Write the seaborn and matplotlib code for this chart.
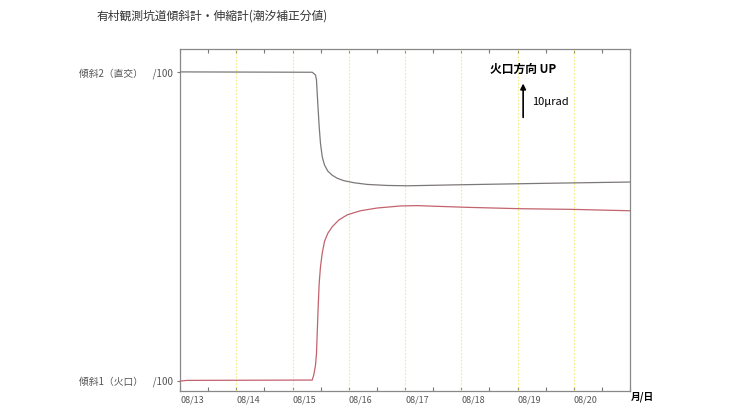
"""
有村観測坑道 傾斜計グラフ (潮汐補正分値) の再現.
"""

import matplotlib
matplotlib.use("Agg")
import matplotlib.pyplot as plt
import seaborn as sns
from matplotlib.ticker import MultipleLocator

# Données : temps en jours depuis 08/13 00:00, valeurs en μrad (échelle relative)
jours_t2 = [0.0, 2.35, 2.409, 2.426, 2.439, 2.456, 2.474, 2.497, 2.528, 2.568,
            2.627, 2.705, 2.794, 2.911, 3.089, 3.327, 3.682, 4.04, 4.98, 6.4, 8.0]
incl_2 = [93.3, 93.2, 92.4, 90.9, 87.0, 82.2, 77.3, 72.4, 68.5, 66.1,
          64.3, 63.1, 62.2, 61.5, 60.9, 60.4, 60.1, 60.0, 60.3, 60.7, 61.1]

jours_t1 = [0.0, 0.12, 2.35, 2.378, 2.409, 2.426, 2.439, 2.456, 2.474, 2.497,
            2.528, 2.568, 2.627, 2.705, 2.823, 2.972, 3.208, 3.504, 3.918,
            4.215, 5.108, 6.05, 6.994, 8.0]
incl_1 = [2.9, 3.1, 3.2, 4.7, 7.6, 11.0, 16.9, 24.6, 31.5, 36.3,
          40.3, 43.7, 46.1, 48.0, 50.0, 51.5, 52.7, 53.5, 54.1,
          54.2, 53.7, 53.3, 53.1, 52.7]

dates = ["08/13", "08/14", "08/15", "08/16", "08/17", "08/18", "08/19", "08/20"]
labels_y = ["傾斜2（直交）　/100", "傾斜1（火口）　/100"]
niveaux_y = [93.3, 3.0]

sns.set_style("white")
plt.rcParams['font.family'] = ['Noto Sans CJK JP', 'DejaVu Sans']

fig = plt.figure(figsize=(7.33, 4.18), dpi=100)
ax = fig.add_axes([0.2456, 0.0646, 0.6139, 0.8182])

# Lignes verticales jaunes pointillées (une par jour)
for j in range(1, len(dates)):
    ax.axvline(j, color="#eeee88", linestyle=(0, (1.5, 1.5)), linewidth=0.8, zorder=1)

sns.lineplot(x=jours_t2, y=incl_2, ax=ax, color="#7d7878", linewidth=0.9, zorder=3)
sns.lineplot(x=jours_t1, y=incl_1, ax=ax, color="#c2636e", linewidth=0.9, zorder=3)

ax.set_xlim(0, 8)
ax.set_ylim(0, 100)

# Axe X : graduations par jour + demi-journées
ax.set_xticks(range(len(dates)))
ax.set_xticklabels(dates, fontsize=6.5, color="#555555", ha="left")
ax.xaxis.set_minor_locator(MultipleLocator(0.5))
ax.tick_params(axis="x", which="both", direction="in", length=3, width=0.8,
               color="#777777", top=True, bottom=True, pad=3)

# Axe Y : deux niveaux de référence
ax.set_yticks(niveaux_y)
ax.set_yticklabels(labels_y, fontsize=7, color="#555555")
ax.tick_params(axis="y", which="major", direction="out", length=2, width=0.8,
               color="#777777", left=True, pad=3)

for s in ax.spines.values():
    s.set_color("#888888")
    s.set_linewidth(0.9)

ax.set_xlabel("")
ax.set_ylabel("")

# Flèche d'échelle 10 μrad
ax.annotate("", xy=(6.10, 89.9), xytext=(6.10, 80.0),
            arrowprops=dict(arrowstyle="-|>", color="black", lw=1.2,
                            mutation_scale=8, shrinkA=0, shrinkB=0))
ax.text(6.10, 92.0, "火口方向 UP", fontsize=8.5, fontweight="bold",
        ha="center", va="bottom", color="black")
ax.text(6.26, 84.5, "10μrad", fontsize=8, ha="left", va="center", color="black")

# Titre et unité de l'axe X
fig.text(0.132, 0.962, "有村観測坑道傾斜計・伸縮計(潮汐補正分値)", fontsize=8.5,
         color="#333333", ha="left", va="center")
fig.text(0.861, 0.05, "月/日", fontsize=7, fontweight="bold", color="black",
         ha="left", va="center")

fig.savefig("out.png", dpi=100)
